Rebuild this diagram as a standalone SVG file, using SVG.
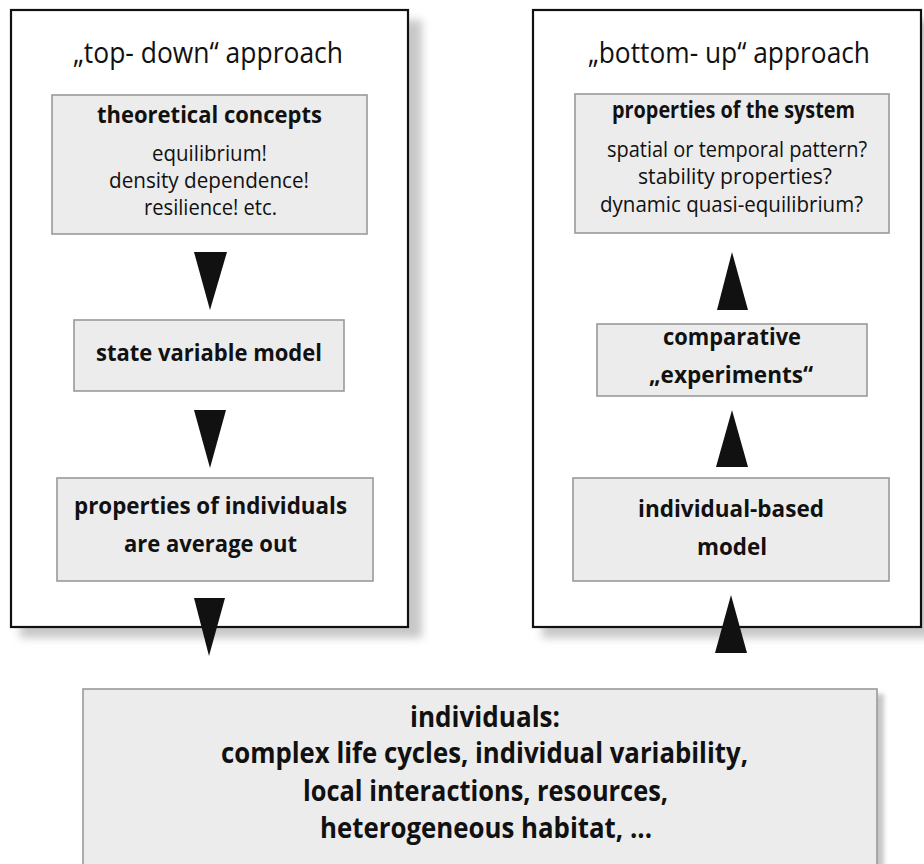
<svg xmlns="http://www.w3.org/2000/svg" width="924" height="864" viewBox="0 0 924 864">
  <style>
    .frame { fill: #ffffff; stroke: #111111; stroke-width: 2.2; }
    .box { fill: #ececec; stroke: #9a9a9a; stroke-width: 1.6; }
    .shade { fill: #c8c8c8; }
    .title { font-family: "Open Sans", "Liberation Sans", sans-serif; font-size: 29px; fill: #111111; text-anchor: middle; }
    .reg { font-family: "Open Sans", "Liberation Sans", sans-serif; font-size: 21px; fill: #111111; text-anchor: middle; }
    .bold { font-family: "Open Sans", "Liberation Sans", sans-serif; font-weight: bold; font-size: 23px; fill: #111111; text-anchor: middle; }
    .big { font-family: "Open Sans", "Liberation Sans", sans-serif; font-weight: bold; font-size: 29px; fill: #111111; text-anchor: middle; }
    .arrow { fill: #111111; }
  </style>
  <defs>
    <filter id="soft" x="-10%" y="-10%" width="120%" height="120%">
      <feGaussianBlur stdDeviation="4"/>
    </filter>
    <filter id="softSmall" x="-10%" y="-10%" width="120%" height="120%">
      <feGaussianBlur stdDeviation="2"/>
    </filter>
  </defs>

  <rect width="924" height="864" fill="#ffffff"/>

  <!-- top-down panel -->
  <g id="topdown-panel">
    <rect class="shade" x="20" y="20" width="402" height="618" filter="url(#soft)"/>
    <rect class="frame" x="11" y="10" width="397" height="617"/>
    <text class="title" x="208" y="63" textLength="270" lengthAdjust="spacingAndGlyphs">„top- down“ approach</text>
  </g>

  <!-- bottom-up panel -->
  <g id="bottomup-panel">
    <rect class="shade" x="542" y="20" width="400" height="618" filter="url(#soft)"/>
    <rect class="frame" x="533" y="10" width="388" height="617"/>
    <text class="title" x="729" y="63" textLength="282" lengthAdjust="spacingAndGlyphs">„bottom- up“ approach</text>
  </g>

  <g id="theoretical-concepts">
    <rect class="box" x="52" y="95" width="315" height="139"/>
    <text class="bold" x="209.5" y="123" font-size="24" textLength="225" lengthAdjust="spacingAndGlyphs">theoretical concepts</text>
    <text class="reg" x="209.5" y="161" textLength="115" lengthAdjust="spacingAndGlyphs">equilibrium!</text>
    <text class="reg" x="209" y="188" textLength="200" lengthAdjust="spacingAndGlyphs">density dependence!</text>
    <text class="reg" x="210.5" y="215" textLength="133" lengthAdjust="spacingAndGlyphs">resilience! etc.</text>
  </g>

  <g id="state-variable-model">
    <rect class="box" x="74" y="320" width="270" height="71"/>
    <text class="bold" x="209" y="361" font-size="24" textLength="226" lengthAdjust="spacingAndGlyphs">state variable model</text>
  </g>

  <g id="properties-of-individuals">
    <rect class="box" x="57" y="478" width="316" height="103"/>
    <text class="bold" x="210.5" y="514" font-size="24" textLength="273" lengthAdjust="spacingAndGlyphs">properties of individuals</text>
    <text class="bold" x="210.5" y="552" font-size="24" textLength="173" lengthAdjust="spacingAndGlyphs">are average out</text>
  </g>

  <g id="properties-of-the-system">
    <rect class="box" x="575" y="94" width="314" height="139"/>
    <text class="bold" x="733.5" y="118" font-size="22" textLength="243" lengthAdjust="spacingAndGlyphs">properties of the system</text>
    <text class="reg" x="737" y="157" textLength="260" lengthAdjust="spacingAndGlyphs">spatial or temporal pattern?</text>
    <text class="reg" x="735" y="184" textLength="194" lengthAdjust="spacingAndGlyphs">stability properties?</text>
    <text class="reg" x="731.5" y="212" textLength="263" lengthAdjust="spacingAndGlyphs">dynamic quasi-equilibrium?</text>
  </g>

  <g id="comparative-experiments">
    <rect class="box" x="597" y="324" width="270" height="72"/>
    <text class="bold" x="732" y="345" font-size="24" textLength="138" lengthAdjust="spacingAndGlyphs">comparative</text>
    <text class="bold" x="731" y="383" font-size="24" textLength="164" lengthAdjust="spacingAndGlyphs">„experiments“</text>
  </g>

  <g id="individual-based-model">
    <rect class="box" x="573" y="478" width="316" height="103"/>
    <text class="bold" x="731" y="517" font-size="24" textLength="186" lengthAdjust="spacingAndGlyphs">individual-based</text>
    <text class="bold" x="732" y="555" font-size="24" textLength="70" lengthAdjust="spacingAndGlyphs">model</text>
  </g>

  <g id="individuals">
    <rect class="shade" x="88" y="694" width="796" height="180" filter="url(#softSmall)"/>
    <rect class="box" x="83" y="689" width="794" height="185"/>
    <text class="big" x="485" y="727" textLength="150" lengthAdjust="spacingAndGlyphs">individuals:</text>
    <text class="big" x="484.5" y="763" textLength="527" lengthAdjust="spacingAndGlyphs">complex life cycles, individual variability,</text>
    <text class="big" x="485.5" y="801" textLength="365" lengthAdjust="spacingAndGlyphs">local interactions, resources,</text>
    <text class="big" x="486" y="838" textLength="332" lengthAdjust="spacingAndGlyphs">heterogeneous habitat, ...</text>
  </g>

  <!-- connectors: solid wedge arrows -->
  <g id="connectors">
    <polygon class="arrow" points="194,252 227,252 210,310"/>
    <polygon class="arrow" points="194,410 226,410 210,468"/>
    <polygon class="arrow" points="194,598 225,598 209,656"/>
    <polygon class="arrow" points="717,310 748,310 732,252"/>
    <polygon class="arrow" points="716,467 748,467 732,410"/>
    <polygon class="arrow" points="715,653 747,653 731,595"/>
  </g>
</svg>
